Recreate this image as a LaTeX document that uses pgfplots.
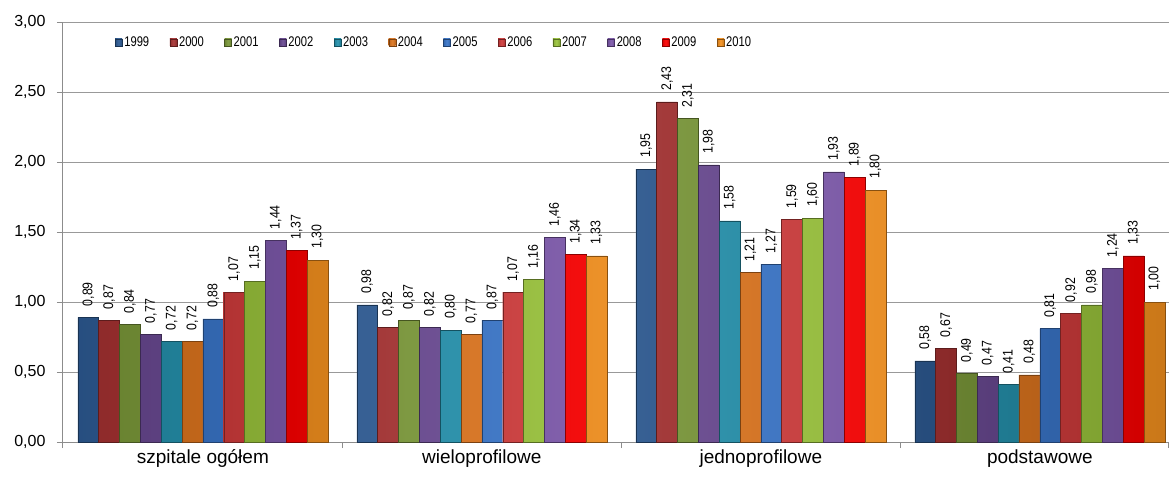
\documentclass[border=0pt]{standalone}
\usepackage{fontspec}
\setmainfont{Liberation Sans}
\newfontfamily\legfont[FakeStretch=0.8]{Liberation Sans}
\newfontfamily\labfont[FakeStretch=0.88]{Liberation Sans}
\usepackage{pgfplots}
\pgfplotsset{compat=1.18}
\definecolor{cA}{HTML}{2E5C96}
\definecolor{cB}{HTML}{A83232}
\definecolor{cC}{HTML}{7D9B3A}
\definecolor{cD}{HTML}{6B4A94}
\definecolor{cE}{HTML}{2593AF}
\definecolor{cF}{HTML}{E0761E}
\definecolor{cG}{HTML}{3A77CC}
\definecolor{cH}{HTML}{D23C3C}
\definecolor{cI}{HTML}{9CC63C}
\definecolor{cJ}{HTML}{7F5AAE}
\definecolor{cK}{HTML}{FF0000}
\definecolor{cL}{HTML}{F7921E}
\pgfplotsset{
  bs/.style={draw=#1!55!black, line width=0.4pt,
    left color=#1!85!black, right color=#1!82!black, middle color=#1!92!white,
    legend image code/.code={\path[##1,line width=0.3pt] (0pt,-3.5pt) rectangle (7pt,3.5pt);}},
}
\begin{document}
\begin{tikzpicture}
\begin{axis}[
  scale only axis, width=1107pt, height=420pt,
  xmin=-0.505, xmax=3.463, ymin=0, ymax=3,
  ybar=0pt, bar width=0.0747,
  ytick={0,0.5,1,1.5,2,2.5,3},
  xtick={0,1,2,3},
  xticklabels={szpitale ogółem, wieloprofilowe, jednoprofilowe, podstawowe},
  minor xtick={-0.505,0.5,1.5,2.5,3.46},
  major x tick style={draw=none},
  minor tick length=6pt, major tick length=5pt,
  tick align=outside,
  axis x line*=bottom, axis y line*=left,
  axis line style={-, color=black!45, line width=0.9pt},
  tick style={color=black!45, line width=0.9pt},
  ymajorgrids, grid style={color=black!40, line width=0.9pt},
  yticklabel style={font=\fontsize{16}{18}\selectfont, xshift=-8pt},
  xticklabel style={font=\fontsize{19}{21}\selectfont, yshift=1pt},
  /pgf/number format/fixed, /pgf/number format/fixed zerofill,
  /pgf/number format/precision=2, /pgf/number format/use comma,
  /pgf/number format/assume math mode=true,
  nodes near coords,
  every node near coord/.append style={rotate=90, anchor=west, inner xsep=11pt, inner ysep=0pt,
     font=\labfont\fontsize{14}{14}\selectfont, text=black},
  legend columns=12,
  legend style={at={(0.045,0.952)}, anchor=west, draw=none, fill=none,
     font=\legfont\fontsize{14}{15}\selectfont,
     /tikz/every even column/.append style={column sep=18.5pt}},
]
\addplot[bs=cA] coordinates {(0,0.89) (1,0.98) (2,1.95) (3,0.58)};
\addplot[bs=cB] coordinates {(0,0.87) (1,0.82) (2,2.43) (3,0.67)};
\addplot[bs=cC] coordinates {(0,0.84) (1,0.87) (2,2.31) (3,0.49)};
\addplot[bs=cD] coordinates {(0,0.77) (1,0.82) (2,1.98) (3,0.47)};
\addplot[bs=cE] coordinates {(0,0.72) (1,0.80) (2,1.58) (3,0.41)};
\addplot[bs=cF] coordinates {(0,0.72) (1,0.77) (2,1.21) (3,0.48)};
\addplot[bs=cG] coordinates {(0,0.88) (1,0.87) (2,1.27) (3,0.81)};
\addplot[bs=cH] coordinates {(0,1.07) (1,1.07) (2,1.59) (3,0.92)};
\addplot[bs=cI] coordinates {(0,1.15) (1,1.16) (2,1.60) (3,0.98)};
\addplot[bs=cJ] coordinates {(0,1.44) (1,1.46) (2,1.93) (3,1.24)};
\addplot[bs=cK] coordinates {(0,1.37) (1,1.34) (2,1.89) (3,1.33)};
\addplot[bs=cL] coordinates {(0,1.30) (1,1.33) (2,1.80) (3,1.00)};
\legend{1999,2000,2001,2002,2003,2004,2005,2006,2007,2008,2009,2010}
\end{axis}
\pgfresetboundingbox
\path[use as bounding box] (-62pt,-38pt) rectangle (1107pt,442pt);
\end{tikzpicture}
\end{document}
